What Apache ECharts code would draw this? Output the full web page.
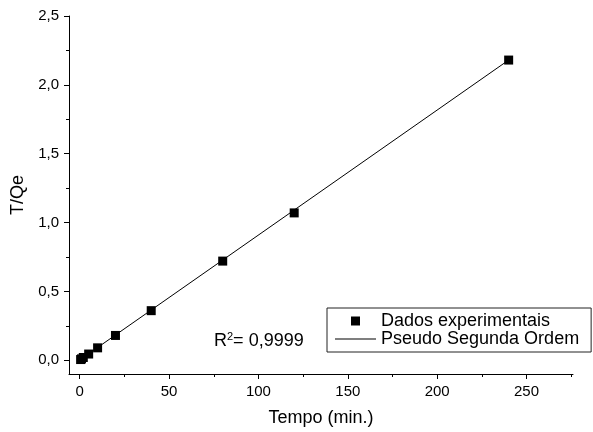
<!DOCTYPE html>
<html>
<head>
<meta charset="utf-8">
<script src="https://cdn.jsdelivr.net/npm/echarts@6/dist/echarts.min.js"></script>
<style>html,body{margin:0;padding:0;background:#fff}#main{width:593px;height:432px}</style>
</head>
<body>
<div id="main"></div>
<script>
// experimental points
var tempo = [0.5, 1, 2, 5, 10, 20, 40, 80, 120, 240];
var tQe = [0.005, 0.01, 0.02, 0.045, 0.09, 0.18, 0.36, 0.72, 1.07, 2.18];
// fitted line end points
var fitTempo = [0.5, 240];
var fitTQe = [0.006, 2.18];
// ticks
var xTicks = [0, 50, 100, 150, 200, 250];
var xMinorTicks = [25, 75, 125, 175, 225, 275];
var yTicks = [0, 0.5, 1, 1.5, 2, 2.5];
var yMinorTicks = [0.25, 0.75, 1.25, 1.75, 2.25];

var font = 'Liberation Sans, Arial, sans-serif';
var ink = '#000';

var chartDom = document.getElementById('main');
var myChart = echarts.init(chartDom, null, { renderer: 'canvas' });

function pairs(xs, ys) {
    return xs.map(function (x, i) { return [x, ys[i]]; });
}

var option = {
    backgroundColor: '#fff',
    animation: false,
    grid: { left: 69, right: 20, top: 16, bottom: 57 },
    xAxis: [
        {
            type: 'value', min: -6, max: 276,
            name: 'Tempo (min.)', nameLocation: 'middle', nameGap: 35,
            nameTextStyle: { fontFamily: font, fontSize: 18, color: ink },
            axisLine: { onZero: false, lineStyle: { color: ink, width: 1 } },
            axisTick: { inside: false, length: 5, customValues: xTicks, lineStyle: { color: ink } },
            axisLabel: {
                customValues: xTicks, margin: 10,
                fontFamily: font, fontSize: 15, color: ink
            },
            splitLine: { show: false }
        },
        {
            type: 'value', min: -6, max: 276, position: 'bottom',
            axisLine: { show: false, onZero: false },
            axisTick: { length: 3, customValues: xMinorTicks, lineStyle: { color: ink } },
            axisLabel: { show: false },
            splitLine: { show: false }
        }
    ],
    yAxis: [
        {
            type: 'value', min: -0.1, max: 2.5,
            name: 'T/Qe', nameLocation: 'middle', nameGap: 37,
            nameTextStyle: { fontFamily: font, fontSize: 18, color: ink },
            axisLine: { show: true, onZero: false, lineStyle: { color: ink, width: 1 } },
            axisTick: { show: true, length: 5, customValues: yTicks, lineStyle: { color: ink } },
            axisLabel: {
                customValues: yTicks, margin: 10,
                fontFamily: font, fontSize: 15, color: ink,
                formatter: function (v) { return v.toFixed(1).replace('.', ','); }
            },
            splitLine: { show: false }
        },
        {
            type: 'value', min: -0.1, max: 2.5, position: 'left',
            axisLine: { show: false, onZero: false },
            axisTick: { show: true, length: 3, customValues: yMinorTicks, lineStyle: { color: ink } },
            axisLabel: { show: false },
            splitLine: { show: false }
        }
    ],
    legend: {
        orient: 'vertical',
        left: 327, top: 308,
        padding: [4, 12, 4, 8],
        itemGap: 0,
        itemWidth: 41, itemHeight: 9,
        borderColor: '#222', borderWidth: 1,
        backgroundColor: '#fff',
        textStyle: { fontFamily: font, fontSize: 18, color: ink, lineHeight: 18 },
        data: [
            { name: 'Dados experimentais', icon: 'path://M0 0H10V10H0Z' },
            { name: 'Pseudo Segunda Ordem', icon: 'path://M0 0H41V1H0Z' }
        ]
    },
    graphic: [
        {
            type: 'text', left: 214, top: 331,
            style: {
                text: 'R{sup|2}= 0,9999',
                font: '18px ' + font,
                fill: ink,
                rich: {
                    sup: { fontSize: 11, fontFamily: font, verticalAlign: 'top', padding: [0, 0, 9, 0] }
                }
            }
        }
    ],
    series: [
        {
            name: 'Pseudo Segunda Ordem',
            type: 'line',
            data: pairs(fitTempo, fitTQe),
            showSymbol: false,
            symbol: 'none',
            lineStyle: { color: ink, width: 1 },
            itemStyle: { color: ink },
            z: 2
        },
        {
            name: 'Dados experimentais',
            type: 'scatter',
            data: pairs(tempo, tQe),
            symbol: 'rect',
            symbolSize: 9,
            itemStyle: { color: ink, opacity: 1 },
            z: 3
        }
    ]
};
option && myChart.setOption(option);
</script>
</body>
</html>
